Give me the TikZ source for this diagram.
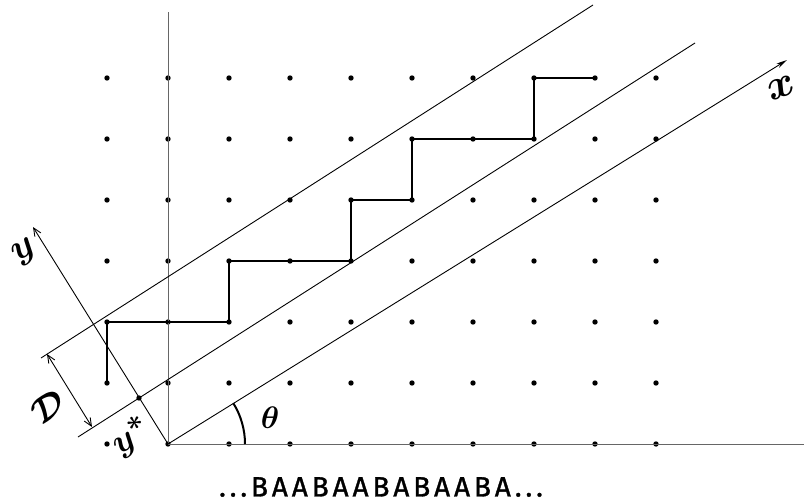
\documentclass[tikz,border=0pt]{standalone}
\usepackage{graphicx}
\usepackage{fontspec}
\newfontfamily\seqfont[LetterSpace=14,FakeBold=1.2]{Fira Sans}
\usetikzlibrary{arrows.meta,calc}
\begin{document}
\begin{tikzpicture}[x=1pt,y=-1pt,
  thinline/.style={line width=0.9pt},
  axisline/.style={line width=0.8pt, black!60},
  stair/.style={line width=2.4pt, line join=round},
  latdot/.style={circle, fill, inner sep=0pt, minimum size=5.4pt},
  lbl/.style={inner sep=0pt, font=\fontsize{24.88}{25}\selectfont\boldmath},
  barb/.style={-{Straight Barb[length=8pt,width=7pt]}},
  dblbarb/.style={{Straight Barb[length=8pt,width=7pt]}-{Straight Barb[length=8pt,width=7pt]}}]
\useasboundingbox (0,0) rectangle (806,503);
% lattice
\foreach \i in {0,...,9}{
  \foreach \j in {0,...,6}{
    \node[latdot] (d\i\j) at ({107+61*\i},{444-61*\j}) {};
  }
}
% coordinate axes of the lattice
\coordinate (vt) at (168,12);
\coordinate (ht) at (804,444);
\draw[axisline] (d10.center) -- (vt);
\draw[axisline] (d10.center) -- (ht);
% strip lines
\coordinate (u1) at (41,358);
\coordinate (u2) at (593,5);
\coordinate (m1) at (78,437);
\coordinate (m2) at (695,43);
\coordinate (xt) at (787,60);
\coordinate (yt) at (33,227);
\draw[thinline] (u1) -- (u2);
\draw[thinline] (m1) -- (m2);
\draw[thinline,-{Stealth[length=11pt,width=5pt]}] (d10.center) -- (xt);
\draw[thinline,barb] (d10.center) -- (yt);
% y* point
\node[latdot] (ystar) at (139,398) {};
% D dimension
\coordinate (da) at (92,427);
\coordinate (db) at (47,354);
\draw[thinline,dblbarb] (da) -- (db);
% staircase
\draw[stair] (d01.center) -- (d02.center) -- (d22.center) -- (d23.center)
  -- (d43.center) -- (d44.center) -- (d54.center) -- (d55.center)
  -- (d75.center) -- (d76.center) -- (d86.center);
% angle
\draw[line width=2pt] ($(d10.center)+(77,0)$) arc[start angle=0, end angle=-32, radius=77];
% labels
\node[lbl, rotate=32] (ylbl) at (25,252) {\scalebox{1.5}{$y$}};
\node[lbl, rotate=20] (xlbl) at (781,88) {\scalebox{1.7}{$x$}};
\node[lbl, rotate=32] (dlbl) at (48,407) {\scalebox{1.45}{$\mathcal{D}$}};
\node[lbl, rotate=32] (yslbl) at (131,437) {\scalebox{1.4}{$y^{*}$}};
\node[lbl] (thlbl) at (270,418) {\scalebox{1.25}{$\theta$}};
\node[inner sep=0pt, font=\seqfont\fontsize{28}{28}\selectfont] (seq) at (381,487) {...BAABAABABAABA...};
\end{tikzpicture}
\end{document}
